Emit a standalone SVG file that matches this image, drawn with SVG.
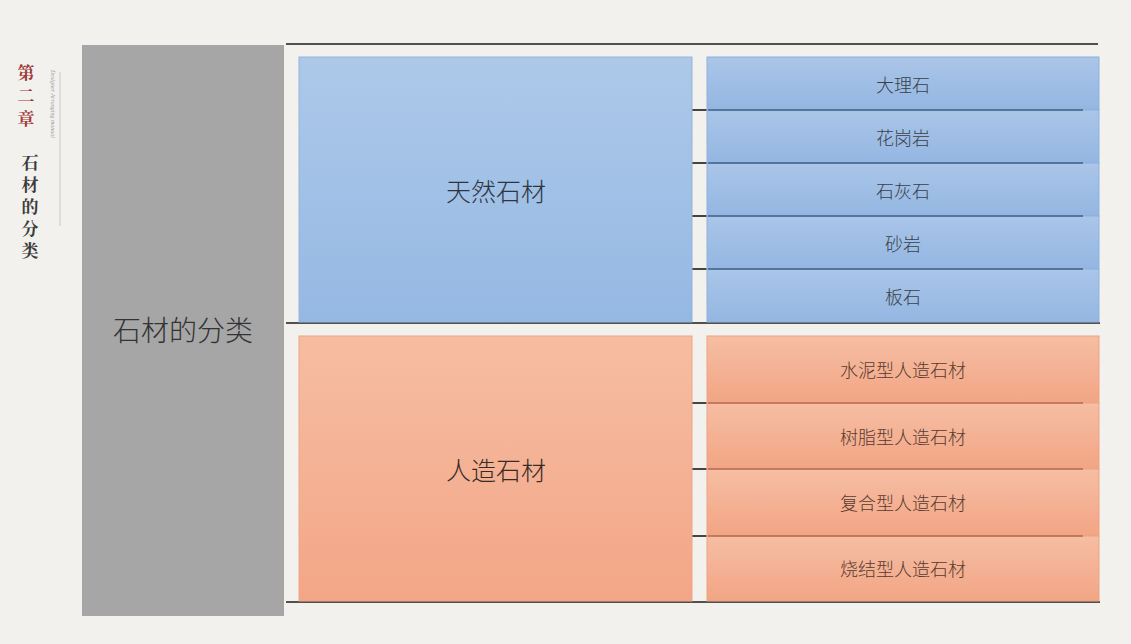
<svg xmlns="http://www.w3.org/2000/svg" width="1131" height="644" viewBox="0 0 1131 644">
<defs>
<linearGradient id="gBlue" x1="0" y1="0" x2="0" y2="1">
<stop offset="0" stop-color="#adc9e9"/>
<stop offset="1" stop-color="#95b8e3"/>
</linearGradient>
<linearGradient id="gBlueRow" x1="0" y1="0" x2="0" y2="1">
<stop offset="0" stop-color="#aac6e8"/>
<stop offset="1" stop-color="#93b6e2"/>
</linearGradient>
<linearGradient id="gOrange" x1="0" y1="0" x2="0" y2="1">
<stop offset="0" stop-color="#f6bda2"/>
<stop offset="1" stop-color="#f3a687"/>
</linearGradient>
<linearGradient id="gOrangeRow" x1="0" y1="0" x2="0" y2="1">
<stop offset="0" stop-color="#f6bea3"/>
<stop offset="1" stop-color="#f2a584"/>
</linearGradient>
<style>
.zh{font-family:"Noto Sans CJK SC","Noto Sans",sans-serif;font-weight:300;text-anchor:middle;dominant-baseline:central}
.side{font-family:"Noto Serif CJK SC","Noto Sans CJK SC",serif;font-weight:bold;writing-mode:vertical-rl;font-size:17px}
.rowB{fill:url(#gBlueRow);stroke:#8fb0db;stroke-width:1}
.rowO{fill:url(#gOrangeRow);stroke:#eea282;stroke-width:1}
.lbB{fill:#3a3f4a;font-size:18px}
.lbO{fill:#5a3a30;font-size:18px}
.sepB{stroke:#3e5f86;stroke-width:1.5}
.sepO{stroke:#b46a4c;stroke-width:1.5}
.conn{stroke:#1a1a1a;stroke-width:1.6}
</style>
</defs>
<rect width="1131" height="644" fill="#f2f1ed"/>
<g id="sidebar">
<text class="side" x="26" y="64" fill="#a23b3b" letter-spacing="6">第二章</text>
<text class="side" x="30" y="154" fill="#3a3a3a" letter-spacing="5">石材的分类</text>
<text x="0" y="0" transform="translate(51,70) rotate(90)" font-family="Liberation Serif,serif" font-size="6" fill="#9a9a9a" font-style="italic">Designer Arranging manual</text>
<line x1="60" y1="72" x2="60" y2="226" stroke="#c9c9c9" stroke-width="1"/>
</g>
<g id="root">
<rect x="82" y="45" width="202" height="571" fill="#a6a6a6"/>
<text class="zh" x="183" y="329" font-size="28" fill="#333">石材的分类</text>
</g>
<g id="connectors">
<line class="conn" x1="286" y1="44" x2="1098" y2="44"/>
<line class="conn" x1="286" y1="323" x2="1100" y2="323"/>
<line class="conn" x1="286" y1="602" x2="1100" y2="602"/>
<line class="conn" x1="692" y1="110" x2="708" y2="110"/>
<line class="conn" x1="692" y1="163" x2="708" y2="163"/>
<line class="conn" x1="692" y1="216" x2="708" y2="216"/>
<line class="conn" x1="692" y1="269" x2="708" y2="269"/>
<line class="conn" x1="692" y1="403" x2="708" y2="403"/>
<line class="conn" x1="692" y1="469" x2="708" y2="469"/>
<line class="conn" x1="692" y1="536" x2="708" y2="536"/>
</g>
<g id="natural">
<rect x="299" y="57" width="393" height="265" fill="url(#gBlue)" stroke="#93b3dc" stroke-width="1"/>
<text class="zh" x="496" y="190" font-size="25" fill="#2e3440">天然石材</text>
</g>
<g id="artificial">
<rect x="299" y="336" width="393" height="265" fill="url(#gOrange)" stroke="#f0a585" stroke-width="1"/>
<text class="zh" x="496" y="469" font-size="25" fill="#3a2a26">人造石材</text>
</g>
<g id="marble"><rect class="rowB" x="707" y="57" width="392" height="53"/><text class="zh lbB" x="903" y="84">大理石</text></g>
<g id="granite"><rect class="rowB" x="707" y="110" width="392" height="53"/><text class="zh lbB" x="903" y="137">花岗岩</text></g>
<g id="limestone"><rect class="rowB" x="707" y="163" width="392" height="53"/><text class="zh lbB" x="903" y="190">石灰石</text></g>
<g id="sandstone"><rect class="rowB" x="707" y="216" width="392" height="53"/><text class="zh lbB" x="903" y="243">砂岩</text></g>
<g id="slate"><rect class="rowB" x="707" y="269" width="392" height="53"/><text class="zh lbB" x="903" y="296">板石</text></g>
<g id="cement"><rect class="rowO" x="707" y="336" width="392" height="67"/><text class="zh lbO" x="903" y="369">水泥型人造石材</text></g>
<g id="resin"><rect class="rowO" x="707" y="403" width="392" height="66"/><text class="zh lbO" x="903" y="436">树脂型人造石材</text></g>
<g id="composite"><rect class="rowO" x="707" y="469" width="392" height="67"/><text class="zh lbO" x="903" y="502">复合型人造石材</text></g>
<g id="sintered"><rect class="rowO" x="707" y="536" width="392" height="65"/><text class="zh lbO" x="903" y="568">烧结型人造石材</text></g>
<g id="separators">
<line class="sepB" x1="708" y1="110" x2="1083" y2="110"/>
<line class="sepB" x1="708" y1="163" x2="1083" y2="163"/>
<line class="sepB" x1="708" y1="216" x2="1083" y2="216"/>
<line class="sepB" x1="708" y1="269" x2="1083" y2="269"/>
<line class="sepO" x1="708" y1="403" x2="1083" y2="403"/>
<line class="sepO" x1="708" y1="469" x2="1083" y2="469"/>
<line class="sepO" x1="708" y1="536" x2="1083" y2="536"/>
</g>
</svg>
